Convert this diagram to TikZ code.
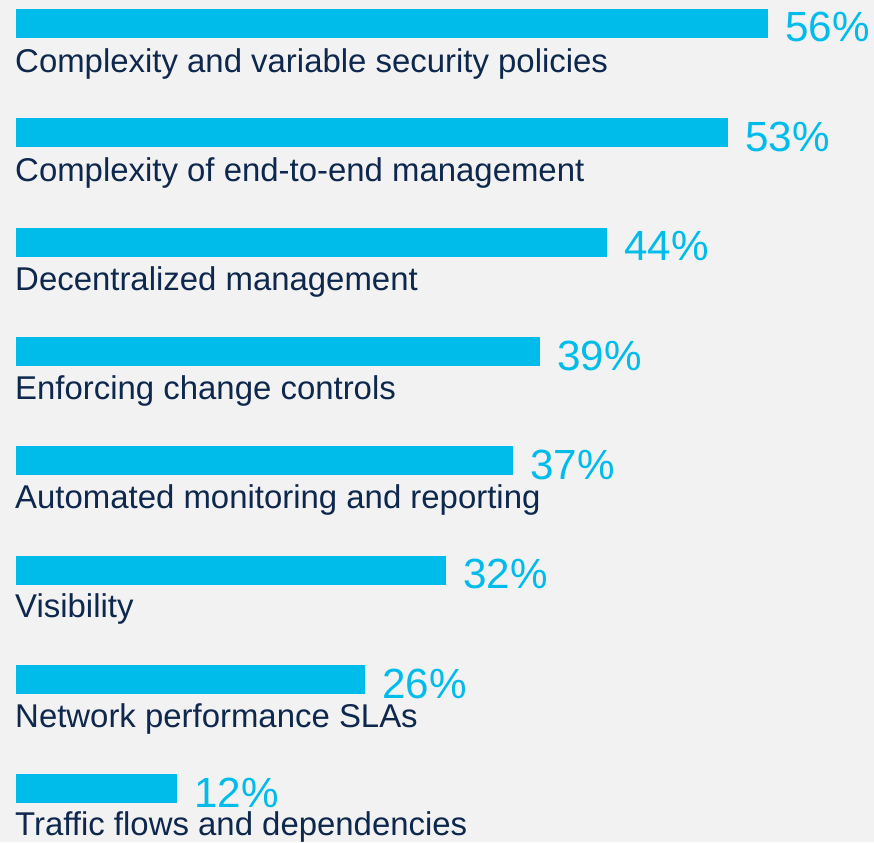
\documentclass[tikz,border=0pt]{standalone}
\usepackage{fontspec}
\setmainfont{Liberation Sans}
\usepackage{xcolor}
\definecolor{barcyan}{HTML}{00BCEB}
\definecolor{labelnavy}{HTML}{0D274D}
\definecolor{panelgray}{HTML}{F2F2F2}
\usetikzlibrary{positioning}

\tikzset{
	bar/.style={fill=barcyan},
	pct/.style={anchor=base west,inner sep=0pt,text=barcyan,font=\fontsize{36}{40}\selectfont},
	lbl/.style={anchor=base west,inner sep=0pt,text=labelnavy,font=\fontsize{28.1}{32}\selectfont}
}

\begin{document}
\begin{tikzpicture}[x=0.03cm,y=-0.03cm]
	\fill[panelgray] (0,0) rectangle (874,842);
	\useasboundingbox (0,0) rectangle (874,842);

	% bars, one percent point = 13.43 px
	\fill[bar] (16,9)   rectangle (768,38);
	\fill[bar] (16,118) rectangle (728,147);
	\fill[bar] (16,228) rectangle (607,257);
	\fill[bar] (16,337) rectangle (540,366);
	\fill[bar] (16,446) rectangle (513,475);
	\fill[bar] (16,556) rectangle (446,585);
	\fill[bar] (16,665) rectangle (365,694);
	\fill[bar] (16,774) rectangle (177,803);

	% values
	\node[pct] (p1) at (785,42)  {56\%};
	\node[pct] (p2) at (745,151) {53\%};
	\node[pct] (p3) at (624,260) {44\%};
	\node[pct] (p4) at (557,370) {39\%};
	\node[pct] (p5) at (530,479) {37\%};
	\node[pct] (p6) at (463,588) {32\%};
	\node[pct] (p7) at (382,698) {26\%};
	\node[pct] (p8) at (194,807) {12\%};

	% labels
	\node[lbl] (l1) at (15,72)  {Complexity and variable security policies};
	\node[lbl] (l2) at (15,181) {Complexity of end-to-end management};
	\node[lbl] (l3) at (15,290) {Decentralized management};
	\node[lbl] (l4) at (15,399) {Enforcing change controls};
	\node[lbl] (l5) at (15,508) {Automated monitoring and reporting};
	\node[lbl] (l6) at (15,617) {Visibility};
	\node[lbl] (l7) at (15,727) {Network performance SLAs};
	\node[lbl] (l8) at (15,835) {Traffic flows and dependencies};
\end{tikzpicture}
\end{document}
